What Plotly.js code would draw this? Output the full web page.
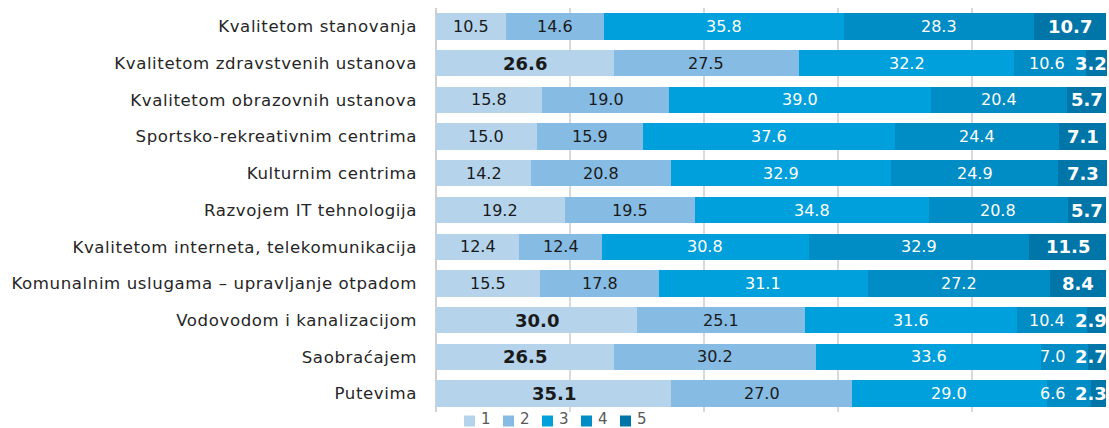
<!DOCTYPE html>
<html>
<head>
<meta charset="utf-8">
<script src="https://cdn.plot.ly/plotly-3.0.1.min.js"></script>
<style>
  html, body { margin: 0; padding: 0; background: #ffffff; }
  #chart { width: 1109px; height: 428px; }
  #chart .ytick text { letter-spacing: 0.6px; }
</style>
</head>
<body>
<div id="chart"></div>
<script>
// ---- data (top to bottom as in the picture) ----
const categories = [
  "Kvalitetom stanovanja",
  "Kvalitetom zdravstvenih ustanova",
  "Kvalitetom obrazovnih ustanova",
  "Sportsko-rekreativnim centrima",
  "Kulturnim centrima",
  "Razvojem IT tehnologija",
  "Kvalitetom interneta, telekomunikacija",
  "Komunalnim uslugama – upravljanje otpadom",
  "Vodovodom i kanalizacijom",
  "Saobraćajem",
  "Putevima"
];
const grade1 = [10.5, 26.6, 15.8, 15.0, 14.2, 19.2, 12.4, 15.5, 30.0, 26.5, 35.1];
const grade2 = [14.6, 27.5, 19.0, 15.9, 20.8, 19.5, 12.4, 17.8, 25.1, 30.2, 27.0];
const grade3 = [35.8, 32.2, 39.0, 37.6, 32.9, 34.8, 30.8, 31.1, 31.6, 33.6, 29.0];
const grade4 = [28.3, 10.6, 20.4, 24.4, 24.9, 20.8, 32.9, 27.2, 10.4, 7.0, 6.6];
const grade5 = [10.7, 3.2, 5.7, 7.1, 7.3, 5.7, 11.5, 8.4, 2.9, 2.7, 2.3];
const seriesNames = ["1", "2", "3", "4", "5"];

// ---- styles ----
const series = [grade1, grade2, grade3, grade4, grade5];
const colors = ["#b5d4ec", "#86bbe3", "#00a0dc", "#008cc4", "#0075a8"];
const labelColors = ["#1a1a1a", "#1a1a1a", "#ffffff", "#ffffff", "#ffffff"];
const FONT = "DejaVu Sans, Open Sans, sans-serif";
const W = 1109, H = 428;
const M = {l: 436, r: 2, t: 8, b: 16};
const XMAX = 100.1;
const plotW = W - M.l - M.r;
const plotH = H - M.t - M.b;
const pxToData = XMAX / plotW;

const traces = series.map((vals, k) => ({
  type: "bar",
  orientation: "h",
  name: seriesNames[k],
  y: categories,
  x: vals,
  marker: {color: colors[k], line: {width: 0}},
  hoverinfo: "x+name",
  textposition: "none",
  showlegend: false
}));

// data labels (centred in each segment, kept inside the plot and apart from each other)
const canvas = document.createElement("canvas");
const ctx = canvas.getContext("2d");
function textW(txt, bold, size) {
  ctx.font = (bold ? "bold " : "") + size + "px 'DejaVu Sans'";
  return ctx.measureText(txt).width;
}
const annotations = [];
categories.forEach((cat, i) => {
  let cum = 0;
  const row = series.map((vals, k) => {
    const v = vals[i];
    const bold = (k === 4) || (k === 0 && v > 25);
    const size = bold ? 18 : 16;
    const txt = v.toFixed(1);
    const w = textW(txt, bold, size) * pxToData;
    const item = {k, v, bold, size, txt, w, center: cum + v / 2};
    cum += v;
    return item;
  });
  let limit = XMAX;
  for (let k = row.length - 1; k >= 0; k--) {
    const it = row[k];
    let c = it.center;
    if (c + it.w / 2 > limit) c = limit - it.w / 2;
    it.center = c;
    limit = c - it.w / 2 - 10 * pxToData;
  }
  row.forEach(it => {
    annotations.push({
      x: it.center, y: cat, xref: "x", yref: "y",
      text: it.bold ? "<b>" + it.txt + "</b>" : it.txt,
      showarrow: false, xanchor: "center", yanchor: "middle",
      borderpad: 0,
      font: {family: FONT, size: it.size, color: labelColors[it.k]}
    });
  });
});

// legend below the plot: small squares with the grade names
const shapes = [];
const px2paperX = px => (px - M.l) / plotW;
const px2paperY = py => (H - M.b - py) / plotH;
const LEG_X0 = 464, LEG_STEP = 39, SQ = 11, LEG_Y = 421;
seriesNames.forEach((name, k) => {
  const sx = LEG_X0 + k * LEG_STEP;
  shapes.push({
    type: "rect", xref: "paper", yref: "paper",
    x0: px2paperX(sx), x1: px2paperX(sx + SQ),
    y0: px2paperY(LEG_Y - SQ / 2), y1: px2paperY(LEG_Y + SQ / 2),
    fillcolor: colors[k], line: {width: 0}
  });
  annotations.push({
    xref: "paper", yref: "paper",
    x: px2paperX(sx + SQ + 5), y: px2paperY(LEG_Y - 1.5),
    xanchor: "left", yanchor: "middle",
    text: name, showarrow: false, borderpad: 0,
    font: {family: FONT, size: 15, color: "#595959"}
  });
});

const layout = {
  width: W, height: H,
  margin: M,
  paper_bgcolor: "#ffffff", plot_bgcolor: "#ffffff",
  barmode: "stack",
  bargap: 0.28,
  showlegend: false,
  xaxis: {
    range: [0, XMAX],
    dtick: 20, tick0: 0,
    showgrid: true, gridcolor: "#d9d9d9", gridwidth: 2,
    zeroline: true, zerolinecolor: "#d0d0d0", zerolinewidth: 2,
    showticklabels: false, ticks: "",
    fixedrange: true
  },
  yaxis: {
    type: "category",
    categoryorder: "array",
    categoryarray: categories.slice().reverse(),
    autorange: false,
    range: [-0.5, categories.length - 0.5],
    showgrid: false, zeroline: false,
    ticks: "", ticklabelstandoff: 18,
    tickfont: {family: FONT, size: 16.6, color: "#262626"},
    fixedrange: true
  },
  shapes: shapes,
  annotations: annotations
};

Plotly.newPlot("chart", traces, layout, {displayModeBar: false, staticPlot: true});
</script>
</body>
</html>
